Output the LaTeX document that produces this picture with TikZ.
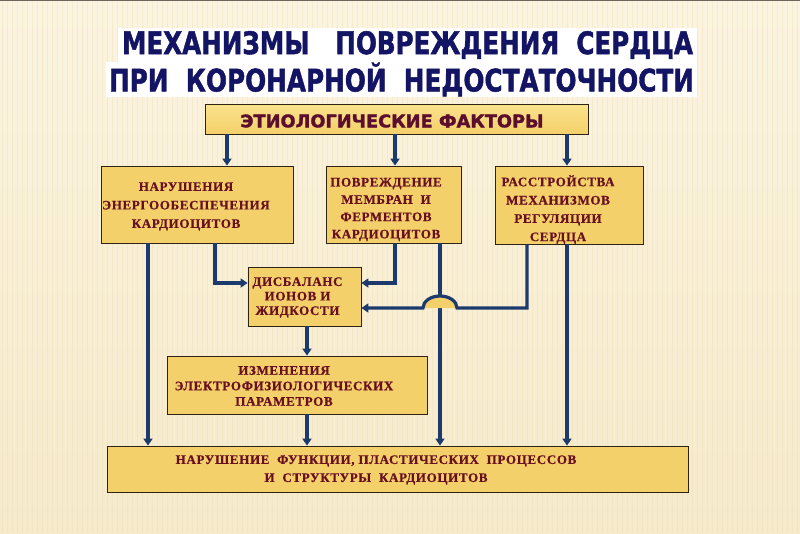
\documentclass[tikz,border=0pt]{standalone}
\usepackage{fontspec}
\usepackage{graphicx}
\setmainfont{Liberation Serif}
\newfontfamily\headfont[FakeBold=1.6]{DejaVu Sans}
\newfontfamily\boxfont[LetterSpace=5, FakeBold=0.6]{Liberation Serif}
\usetikzlibrary{arrows.meta}

\definecolor{bgtop}{RGB}{251,244,224}
\definecolor{bgbot}{RGB}{246,234,203}
\definecolor{stripe}{RGB}{236,220,180}
\definecolor{titleblue}{RGB}{20,20,100}
\definecolor{boxfill}{RGB}{244,208,106}
\definecolor{boxtop}{RGB}{250,226,140}
\definecolor{boxline}{RGB}{45,35,20}
\definecolor{boxtext}{RGB}{105,16,32}
\definecolor{etiotext}{RGB}{92,14,46}
\definecolor{linkblue}{RGB}{28,58,108}

\begin{document}
\begin{tikzpicture}[x=1pt, y=-1pt,
    box/.style = {draw=boxline, line width=0.8pt, fill=boxfill, inner sep=0pt},
    boxtext/.style = {text=boxtext, align=center, inner sep=0pt,
      font=\boxfont\bfseries\fontsize{13}{#1}\selectfont},
    boxtext/.default = 18,
    headline/.style = {fill=white, text=titleblue, inner sep=0pt,
      font=\headfont\bfseries\fontsize{31}{31}\selectfont},
    link/.style = {draw=linkblue, line width=3.2pt},
    arr/.style = {link, -{Triangle[length=7pt, width=9pt]}}]

  % slide background
  \useasboundingbox (0,0) rectangle (800,533);
  \shade[top color=bgtop, bottom color=bgbot] (0,0) rectangle (800,533);
  \foreach \x in {2,7,...,800}
    \draw[stripe, opacity=0.35, line width=1pt] (\x,0) -- (\x,533);
  \draw[boxline!70, line width=1pt] (0,0.5) -- (800,0.5);

  % title
  \node[headline, minimum width=579pt, minimum height=34pt] (t1) at (407.5,45)
    {\resizebox{571pt}{\height}{МЕХАНИЗМЫ\ \ \ ПОВРЕЖДЕНИЯ\ \ СЕРДЦА}};
  \node[headline, minimum width=591pt, minimum height=35pt] (t2) at (401.5,79.5)
    {\resizebox{585pt}{\height}{ПРИ\ \ КОРОНАРНОЙ\ \ НЕДОСТАТОЧНОСТИ}};

  % boxes
  \node[box, top color=boxtop, bottom color=boxfill, minimum width=383pt, minimum height=30pt] (etio) at (396.5,119) {};
  \node[text=etiotext, inner sep=0pt, font=\headfont\bfseries\fontsize{17.5}{18}\selectfont] (etio-t) at (392,121)
    {\resizebox{303pt}{\height}{ЭТИОЛОГИЧЕСКИЕ ФАКТОРЫ}};

  \node[box, minimum width=192pt, minimum height=77pt] (nar) at (197,204.5) {};
  \node[boxtext=18.5] (nar-t) at (186,206.5) {НАРУШЕНИЯ\\ЭНЕРГООБЕСПЕЧЕНИЯ\\КАРДИОЦИТОВ};

  \node[box, minimum width=135pt, minimum height=77pt] (pov) at (393.5,204.5) {};
  \node[boxtext=17.3] (pov-t) at (386,209.5) {ПОВРЕЖДЕНИЕ\\МЕМБРАН\ \ И\\ФЕРМЕНТОВ\\КАРДИОЦИТОВ};

  \node[box, minimum width=148pt, minimum height=78pt] (ras) at (569,205) {};
  \node[boxtext=18.3] (ras-t) at (558,209.5) {РАССТРОЙСТВА\\МЕХАНИЗМОВ\\РЕГУЛЯЦИИ\\СЕРДЦА};

  \node[box, minimum width=113pt, minimum height=59pt] (dis) at (304.5,296.5) {};
  \node[boxtext=14.5] (dis-t) at (297.5,297.5) {ДИСБАЛАНС\\ИОНОВ И\\ЖИДКОСТИ};

  \node[box, minimum width=260pt, minimum height=58pt] (izm) at (297,385) {};
  \node[boxtext=15.5] (izm-t) at (284,386) {ИЗМЕНЕНИЯ\\ЭЛЕКТРОФИЗИОЛОГИЧЕСКИХ\\ПАРАМЕТРОВ};

  \node[box, minimum width=581pt, minimum height=46pt] (fin) at (397.5,469) {};
  \node[boxtext=18] (fin-t) at (376,470)
    {НАРУШЕНИЕ\ \ ФУНКЦИИ, ПЛАСТИЧЕСКИХ\ \ ПРОЦЕССОВ\\И\ \ СТРУКТУРЫ\ \ КАРДИОЦИТОВ};

  % columns and rows of the connectors
  \coordinate (ca) at (148,0);
  \coordinate (cb) at (215,0);
  \coordinate (cc) at (227,0);
  \coordinate (cd) at (395,0);
  \coordinate (ce) at (440,0);
  \coordinate (cf) at (527,0);
  \coordinate (cg) at (567,0);
  \coordinate (ch) at (307,0);
  \coordinate (r1) at (0,283);
  \coordinate (r2) at (0,308);
  \coordinate (jmp) at (ce |- r2);

  % connectors
  \draw[arr] (etio.south -| cc) -- (nar.north -| cc);
  \draw[arr] (etio.south -| cd) -- (pov.north -| cd);
  \draw[arr] (etio.south -| cg) -- (ras.north -| cg);
  \draw[arr] (nar.south -| cb) |- (dis.west |- r1);
  \draw[arr] (pov.south -| cd) |- (dis.east |- r1);
  \draw[arr] (nar.south -| ca) -- (fin.north -| ca);
  \draw[arr] (pov.south -| ce) -- (fin.north -| ce);
  \draw[arr] (ras.south -| cg) -- (fin.north -| cg);
  \draw[arr] (dis.south -| ch) -- (izm.north -| ch);
  \draw[arr] (izm.south -| ch) -- (fin.north -| ch);
  % line bridge over the vertical one
  \fill[boxfill] ([xshift=17pt]jmp) arc[start angle=0, end angle=180, x radius=17pt, y radius=12pt] -- cycle;
  \draw[arr] (ras.south -| cf) |- ([xshift=17pt]jmp)
    arc[start angle=0, end angle=180, x radius=17pt, y radius=12pt] -- (dis.east |- r2);
\end{tikzpicture}
\end{document}
